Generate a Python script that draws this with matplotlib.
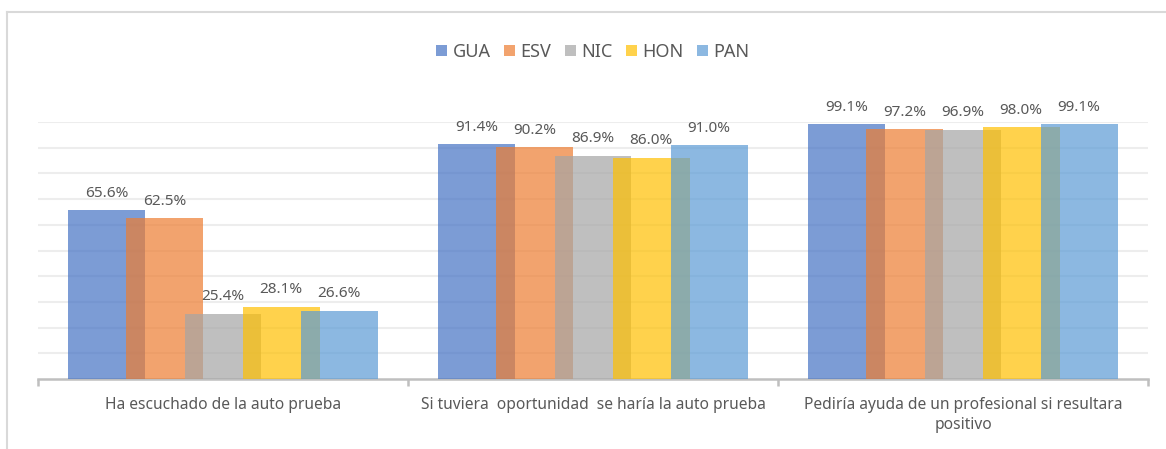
import matplotlib
matplotlib.use('Agg')
import matplotlib.pyplot as plt
from matplotlib.lines import Line2D
import numpy as np

categories = ['Ha escuchado de la auto prueba',
              'Si tuviera  oportunidad  se haría la auto prueba',
              'Pediría ayuda de un profesional si resultara\npositivo']
series = ['GUA', 'ESV', 'NIC', 'HON', 'PAN']
gua = [65.6, 91.4, 99.1]
esv = [62.5, 90.2, 97.2]
nic = [25.4, 86.9, 96.9]
hon = [28.1, 86.0, 98.0]
pan = [26.6, 91.0, 99.1]
colors = ['#4472C4', '#ED7D31', '#A5A5A5', '#FFC000', '#5B9BD5']

plt.rcParams['font.family'] = ['Noto Sans', 'DejaVu Sans']
text_col = '#595959'

fig = plt.figure(figsize=(11.66, 4.49), dpi=100)
ax = fig.add_axes([38 / 1166, 70 / 449, 1110 / 1166, 257 / 449])

x = np.arange(len(categories))
step = 0.157
width = 0.208
handles = []
for i, (name, vals, col) in enumerate(zip(series, [gua, esv, nic, hon, pan], colors)):
    pos = x + (i - 2) * step
    bars = ax.bar(pos, vals, width=width, color=col, alpha=0.7, zorder=3 + i,
                  linewidth=0, label=name)
    handles.append(bars)
    for p, v in zip(pos, vals):
        ax.text(p, v + 3.7, f'{v:.1f}%', ha='center', va='bottom', fontsize=11,
                color=text_col, clip_on=False, zorder=20)

ax.set_xlim(-0.5, 2.5)
ax.set_ylim(0, 100)
ax.set_yticks(np.arange(10, 101, 10))
ax.yaxis.grid(True, color='#EDEDED', linewidth=1.5, zorder=0)
ax.tick_params(axis='y', left=False, labelleft=False)
for s in ['top', 'right', 'left']:
    ax.spines[s].set_visible(False)
ax.spines['bottom'].set_color('#BFBFBF')
ax.spines['bottom'].set_linewidth(1.8)

ax.set_xticks(x)
ax.set_xticklabels(categories, fontsize=11.2, color=text_col, linespacing=1.3)
ax.tick_params(axis='x', which='major', length=0, pad=13)
ax.set_xticks([-0.5, 0.5, 1.5, 2.5], minor=True)
ax.tick_params(axis='x', which='minor', length=5, width=1.8, color='#BFBFBF')

leg = fig.legend(handles=handles, loc='center', bbox_to_anchor=(593 / 1166, 1 - 52 / 449),
                 ncol=5, frameon=False, fontsize=13, handlelength=0.6, handleheight=0.6,
                 handletextpad=0.3, columnspacing=0.75)
for t in leg.get_texts():
    t.set_color(text_col)

# outer chart border (left and top only visible)
fig.add_artist(Line2D([7 / 1166, 7 / 1166], [0, 1 - 12 / 449], transform=fig.transFigure,
                      color='#D9D9D9', linewidth=1.5))
fig.add_artist(Line2D([7 / 1166, 1], [1 - 12 / 449, 1 - 12 / 449], transform=fig.transFigure,
                      color='#D9D9D9', linewidth=1.5))

fig.savefig('out.png', dpi=100)
